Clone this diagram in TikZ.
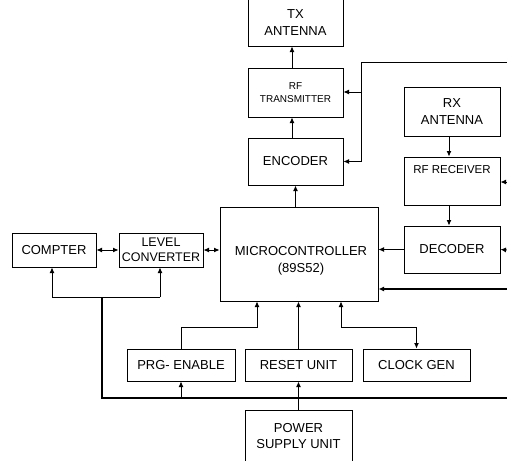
\documentclass[tikz,border=0pt]{standalone}
\usepackage{fontspec}
\setmainfont{Liberation Sans}
\usetikzlibrary{arrows.meta,calc}
\begin{document}
\begin{tikzpicture}[x=1pt,y=-1pt,
  box/.style={draw,line width=1pt,inner sep=0pt,align=center,
    font=\fontsize{13}{16.5}\selectfont},
  con/.style={line width=0.9pt,-{Latex[length=5.5pt,width=5pt]}},
  thk/.style={line width=1.6pt},
  bi/.style={line width=0.9pt,{Latex[length=5.5pt,width=5pt]}-{Latex[length=5.5pt,width=5pt]}}]
\useasboundingbox (0,0) rectangle (507,461);
% boxes
\node[box,minimum width=95pt,minimum height=47pt] (tx) at (295.5,22.5) {TX\\ANTENNA};
\node[box,minimum width=95pt,minimum height=49pt,font=\fontsize{10}{12.5}\selectfont] (rft) at (295.5,92.5) {RF\\TRANSMITTER};
\node[box,minimum width=95pt,minimum height=47pt] (enc) at (295.5,161.5) {ENCODER};
\node[box,minimum width=96pt,minimum height=49pt] (rxa) at (452,111.5) {RX\\ANTENNA};
\node[box,minimum width=96pt,minimum height=48pt] (rfr) at (452,181) {};
\node[font=\fontsize{11.5}{13}\selectfont] (rfrt) at (452,170) {RF RECEIVER};
\node[box,minimum width=96pt,minimum height=47pt] (dec) at (452,249.5) {DECODER};
\node[box,minimum width=158pt,minimum height=94pt] (mcu) at (299,254) {};
\node[align=center,font=\fontsize{13}{17}\selectfont] (mcut) at (301,261) {MICROCONTROLLER\\(89S52)};
\node[box,minimum width=84pt,minimum height=34pt] (comp) at (54,250) {COMPTER};
\node[box,minimum width=84pt,minimum height=34pt,font=\fontsize{12.5}{15}\selectfont] (lc) at (161,250) {LEVEL\\CONVERTER};
\node[box,minimum width=108pt,minimum height=32pt] (prg) at (181,365) {PRG- ENABLE};
\node[box,minimum width=107pt,minimum height=32pt] (rst) at (298.5,365) {RESET UNIT};
\node[box,minimum width=107pt,minimum height=32pt] (clk) at (416.5,365) {CLOCK GEN};
\node[box,minimum width=107pt,minimum height=52pt] (psu) at (298.5,436) {POWER\\SUPPLY UNIT};
% coordinates
\coordinate (r1) at (507,62);
\coordinate (c1) at (361,62);
\coordinate (c2) at (361,161.5);
\coordinate (c3) at (361,92);
\coordinate (r2) at (507,182);
\coordinate (r3) at (507,250);
\coordinate (r4) at (507,289);
\coordinate (b1) at (52,297);
\coordinate (b2) at (160,297);
\coordinate (b3) at (102,297);
\coordinate (b4) at (102,398);
\coordinate (b5) at (507,398);
\coordinate (p1) at (257,327);
\coordinate (k1) at (341,327);
% connectors top
\draw[con] ([xshift=-3.5pt]rft.north) -- ([xshift=-3.5pt]tx.south);
\draw[con] ([xshift=-3.5pt]enc.north) -- ([xshift=-3.5pt]rft.south);
\draw[con,line width=1.3pt] (enc.south |- mcu.north) -- (enc.south);
\draw[line width=1pt] (r1) -- (c1) -- (c2);
\draw[con] (c2) -- (enc.east);
\draw[con] (c3) -- (c3 -| rft.east);
\draw[con] ([xshift=-3pt]rxa.south) -- ([xshift=-3pt]rfr.north);
\draw[con] ([xshift=-3pt]rfr.south) -- ([xshift=-3pt]dec.north);
\draw[con] (dec.west) -- (dec.west -| mcu.east);
\draw[con] (r2) -- (r2 -| rfr.east);
\draw[con] (r3) -- (dec.east);
\draw[con,thk] (r4) -- (r4 -| mcu.east);
% left
\draw[bi] (comp.east) -- (lc.west);
\draw[bi] (lc.east) -- (lc.east -| mcu.west);
\draw[con] (b1) -- (b1 |- comp.south);
\draw[con] (b2) -- (b2 |- lc.south);
\draw[line width=1pt] (b1) -- (b2);
\draw[thk] (b3) -- (b4) -- (b5);
% bottom
\draw[con] (prg.north) |- (p1) -- (p1 |- mcu.south);
\draw[con,line width=1.3pt] (rst.north) -- (rst.north |- mcu.south);
\draw[con] (k1) -- (k1 |- mcu.south);
\draw[con] (k1) -| (clk.north);
\draw[con] (b4 -| prg.south) -- (prg.south);
\draw[con,line width=1.3pt] (psu.north) -- (rst.south);
\end{tikzpicture}
\end{document}
